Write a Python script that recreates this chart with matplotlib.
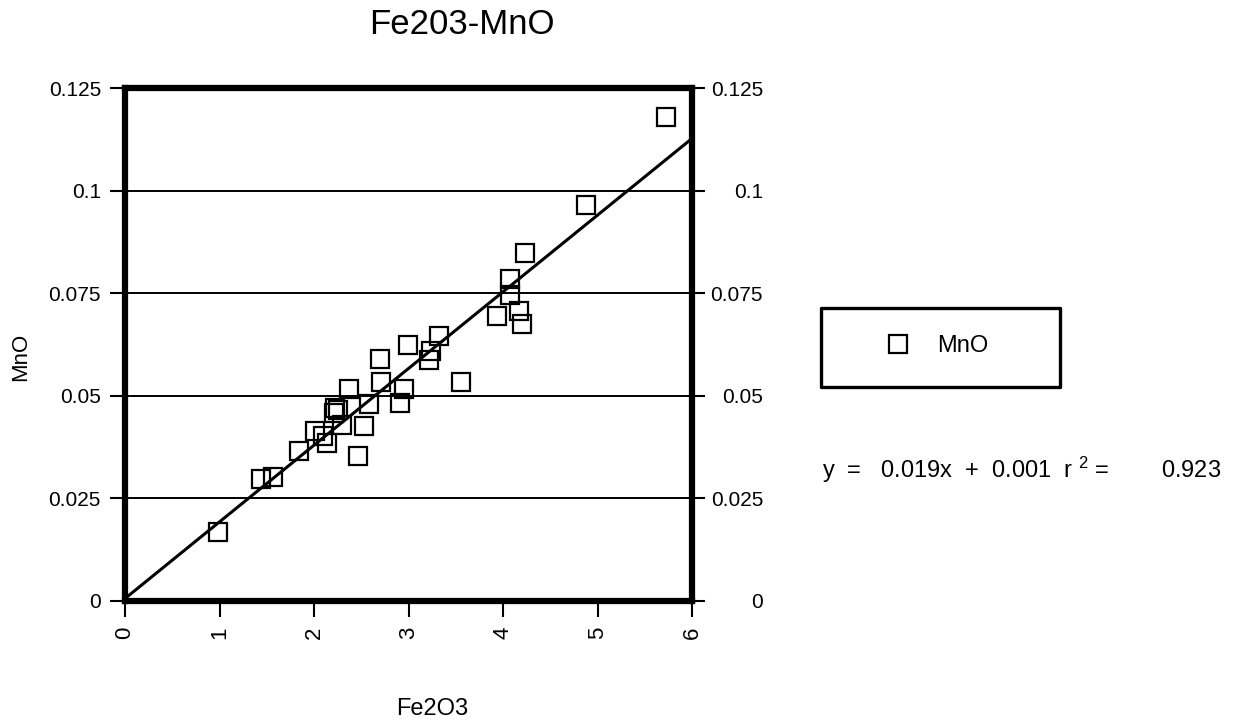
import matplotlib
matplotlib.use("Agg")
import matplotlib.pyplot as plt
from matplotlib.patches import Rectangle
import numpy as np

plt.rcParams['font.family'] = ['Liberation Sans', 'DejaVu Sans']
plt.rcParams['mathtext.fontset'] = 'custom'
plt.rcParams['mathtext.rm'] = 'Liberation Sans'
plt.rcParams['mathtext.default'] = 'regular'

# Fe2O3 vs MnO measurements
fe2o3 = [5.72, 4.87, 4.23, 4.07, 4.07, 3.93, 4.17, 4.20, 3.32, 2.99, 3.23,
         3.21, 2.70, 3.55, 2.71, 2.95, 2.37, 2.91, 2.58, 2.22, 2.21, 2.29,
         2.53, 2.01, 2.09, 2.14, 2.46, 1.84, 1.44, 1.57, 0.98, 2.25]
mno = [0.1180, 0.0965, 0.0848, 0.0785, 0.0745, 0.0694, 0.0707, 0.0675,
       0.0645, 0.0625, 0.0610, 0.0588, 0.0589, 0.0533, 0.0534, 0.0516,
       0.0516, 0.0483, 0.0479, 0.0470, 0.0458, 0.0430, 0.0427, 0.0414,
       0.0402, 0.0386, 0.0353, 0.0366, 0.0298, 0.0301, 0.0167, 0.0465]

# linear fit shown as a line and in the equation
fit_slope = 0.0187
fit_intercept = 0.0006
fit_r2 = 0.923

x_ticks = [0, 1, 2, 3, 4, 5, 6]
x_tick_labels = ['0', '1', '2', '3', '4', '5', '6']
y_ticks = [0, 0.025, 0.05, 0.075, 0.1, 0.125]
y_tick_labels = ['0', '0.025', '0.05', '0.075', '0.1', '0.125']

W, H = 1239, 726
fig = plt.figure(figsize=(W / 100, H / 100), dpi=100)
fig.patch.set_facecolor('white')

ax = fig.add_axes([125 / W, 1 - 601 / H, 567.5 / W, 513 / H])
ax.set_xlim(0, 6)
ax.set_ylim(0, 0.125)

# horizontal grid lines
ax.set_yticks(y_ticks, y_tick_labels)
ax.set_xticks(x_ticks, x_tick_labels)
ax.yaxis.grid(True, color='black', linewidth=1.4, zorder=1)
ax.set_axisbelow(True)

ax.plot(fe2o3, mno, linestyle='none', marker='s', markersize=13,
        markerfacecolor='none', markeredgecolor='black', markeredgewidth=1.6,
        label='MnO', zorder=3, clip_on=False)

xs = np.array([0.0, 6.0])
ax.plot(xs, fit_slope * xs + fit_intercept, color='black', linewidth=2.2,
        zorder=2)

for sp in ax.spines.values():
    sp.set_linewidth(4.5)
    sp.set_color('black')

ax.tick_params(axis='x', direction='out', length=11.5, width=1.5, pad=7,
               labelsize=16, labelrotation=90, top=False, colors='black')
ax.tick_params(axis='y', direction='out', length=10.8, width=1.5, pad=6.5,
               labelsize=15, left=True, right=False, colors='black')

# right-hand value axis
ax2 = ax.twinx()
ax2.set_ylim(0, 0.125)
ax2.set_yticks(y_ticks, y_tick_labels)
ax2.tick_params(axis='y', direction='out', length=9, width=1.5, pad=41.8,
                labelsize=15, right=True, left=False)
for lbl in ax2.get_yticklabels():
    lbl.set_horizontalalignment('right')
for sp in ax2.spines.values():
    sp.set_visible(False)

ax.set_xlabel('Fe2O3', fontsize=17)
ax.xaxis.set_label_coords((431.7 - 125) / 567.5, (601 - 698) / 513)
ax.set_ylabel('MnO', fontsize=16)
ax.yaxis.set_label_coords((31 - 125) / 567.5, (601 - 357) / 513)

fig.text(462 / W, 1 - 25 / H, 'Fe203-MnO', ha='center', va='center',
         fontsize=25)

# legend with a heavy frame
leg = ax.legend(loc='center left', bbox_to_anchor=(889 / W, 1 - 346 / H),
                bbox_transform=fig.transFigure, frameon=False, fontsize=17,
                handlelength=0.8, handletextpad=1.23, borderpad=0,
                borderaxespad=0, numpoints=1)
fig.add_artist(Rectangle((821 / W, 1 - 387 / H), 238.5 / W, 79.5 / H,
                         transform=fig.transFigure, fill=False,
                         linewidth=2.4, edgecolor='black',
                         joinstyle='round'))

eq = (f"y  =   {fit_slope:.3f}x  +  {fit_intercept:.3f}  "
      f"r $^{{2}}$ =        {fit_r2:.3f}")
fig.text(822 / W, 1 - 470 / H, eq, ha='left', va='center', fontsize=17)

fig.savefig('out.png', dpi=100)
